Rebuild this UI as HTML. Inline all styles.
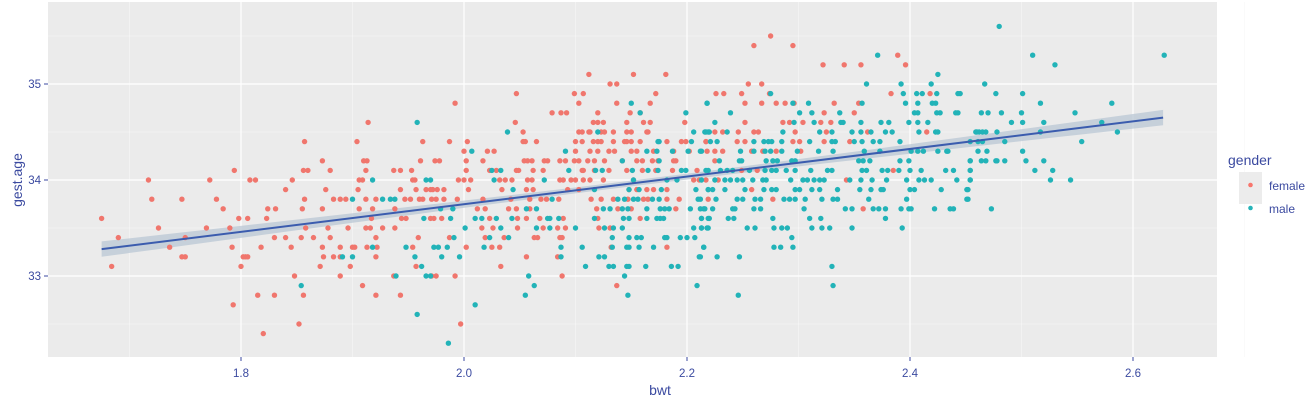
<!DOCTYPE html>
<html><head><meta charset="utf-8"><style>
html,body{margin:0;padding:0;background:#fff;}
svg{display:block;font-family:"Liberation Sans",sans-serif;}
</style></head><body>
<svg id="chart" width="1314" height="401" viewBox="0 0 1314 401">
<rect x="48" y="2" width="1169" height="355" fill="#ebebeb"/>
<g id="grid"></g>
<g id="band"></g>
<g id="pts"></g>
<g id="fit"></g>
<g id="axes"></g>
<text x="660" y="395" text-anchor="middle" font-size="14" fill="#3b4aa0">bwt</text>
<text transform="translate(22,180) rotate(-90)" text-anchor="middle" font-size="14" fill="#3b4aa0">gest.age</text>
<g>
<text x="1228" y="165" font-size="14" fill="#3b4aa0">gender</text>
<rect x="1239" y="172" width="23" height="32" fill="#ececec"/>
<circle cx="1250.5" cy="185" r="2.3" fill="#F8766D"/>
<circle cx="1250.5" cy="208" r="2.3" fill="#26b4b9"/>
<text x="1269" y="190" font-size="12" fill="#3b4aa0">female</text>
<text x="1269" y="213" font-size="12" fill="#3b4aa0">male</text>
</g>
</svg>
<script>
const xTicks=[1.8,2.0,2.2,2.4,2.6];
const xTickLabels=["1.8","2.0","2.2","2.4","2.6"];
const yTicks=[33,34,35];
const yTickLabels=["33","34","35"];
const fitLine=[[1.675,33.28],[2.627,34.65]];
const femalePts=[[1.675,33.6],[1.684,33.1],[1.69,33.4],[1.717,34.0],[1.72,33.8],[1.726,33.5],[1.736,33.3],[1.747,33.8],[1.747,33.2],[1.75,33.2],[1.75,33.4],[1.769,33.5],[1.772,34.0],[1.778,33.8],[1.784,33.7],[1.79,33.5],[1.792,33.3],[1.793,32.7],[1.794,34.1],[1.798,33.6],[1.8,33.1],[1.802,33.2],[1.804,33.2],[1.806,33.2],[1.806,33.6],[1.808,34.0],[1.813,34.0],[1.815,32.8],[1.818,33.3],[1.82,32.4],[1.823,33.6],[1.824,33.7],[1.83,33.4],[1.83,32.8],[1.831,33.7],[1.84,33.9],[1.84,33.4],[1.845,33.3],[1.846,34.0],[1.848,33.0],[1.852,32.5],[1.854,33.4],[1.855,33.7],[1.856,34.1],[1.86,34.1],[1.856,32.8],[1.857,34.4],[1.857,33.8],[1.858,33.5],[1.865,33.4],[1.871,33.1],[1.873,34.2],[1.873,33.7],[1.873,33.3],[1.874,33.2],[1.876,33.9],[1.878,33.5],[1.88,33.4],[1.88,34.1],[1.883,33.8],[1.889,33.8],[1.894,33.8],[1.883,33.2],[1.889,33.2],[1.889,33.3],[1.889,33.0],[1.896,33.5],[1.898,33.1],[1.9,33.3],[1.902,33.3],[1.904,34.4],[1.905,33.9],[1.906,34.0],[1.909,34.0],[1.906,33.7],[1.909,32.9],[1.91,34.2],[1.913,34.2],[1.912,34.1],[1.914,34.6],[1.912,33.8],[1.912,33.5],[1.916,33.5],[1.913,33.3],[1.922,33.3],[1.917,33.6],[1.918,33.7],[1.921,33.8],[1.921,33.4],[1.921,33.2],[1.921,32.8],[1.927,33.5],[1.937,34.1],[1.943,34.1],[1.937,33.0],[1.938,33.7],[1.938,33.5],[1.943,33.9],[1.943,32.8],[1.944,33.6],[1.948,33.6],[1.947,33.8],[1.952,33.8],[1.953,34.1],[1.954,34.0],[1.956,34.0],[1.954,33.3],[1.957,33.9],[1.957,33.1],[1.959,33.4],[1.96,33.8],[1.963,33.8],[1.961,34.2],[1.963,34.4],[1.966,33.9],[1.97,33.6],[1.971,33.8],[1.971,33.0],[1.972,33.9],[1.974,34.2],
[1.992,34.8],[1.987,34.4],[2.003,34.4],[2.0,34.3],[1.978,34.2],[2.002,34.2],[2.017,34.2],[2.021,34.3],[2.027,34.3],[2.002,34.1],[2.023,34.1],[2.029,34.1],[2.047,34.1],[1.995,34.0],[2.0,34.0],[2.006,34.0],[2.032,34.0],[2.037,34.0],[2.043,34.0],[2.057,34.0],[2.061,34.0],[2.004,33.9],[2.034,33.9],[2.056,33.9],[2.062,33.9],[1.976,33.9],[1.982,33.9],[1.97,33.9],[1.975,33.8],[1.982,33.8],[1.994,33.8],[2.017,33.8],[2.042,33.8],[2.059,33.8],[2.069,33.8],[2.074,33.8],[2.012,33.7],[2.019,33.7],[2.04,33.7],[2.047,33.7],[2.059,33.7],[1.973,33.6],[1.98,33.6],[2.023,33.6],[2.048,33.6],[2.056,33.6],[2.068,33.6],[2.016,33.5],[2.026,33.5],[2.048,33.5],[2.071,33.5],[2.084,33.5],[2.091,33.5],[1.987,33.4],[2.019,33.4],[2.036,33.4],[2.063,33.4],[2.066,33.4],[2.086,33.4],[2.088,33.4],[2.002,33.3],[2.025,33.3],[2.032,33.3],[2.056,33.2],[2.084,33.2],[2.033,33.1],[1.975,33.0],[1.992,33.0],[2.088,33.0],[1.997,32.5],
[2.047,34.9],[2.046,34.6],[2.053,34.5],[2.053,34.4],[2.055,34.4],[2.065,34.4],[2.054,34.2],[2.057,34.2],[2.061,34.2],[2.072,34.2],[2.075,34.2],[2.049,34.1],[2.071,34.1],[2.062,34.1],[2.079,34.7],[2.087,34.7],[2.092,34.7],[2.099,34.9],[2.103,34.8],[2.107,34.9],[2.112,35.1],[2.131,35.0],[2.137,35.0],[2.152,35.1],[2.181,35.1],[2.172,34.9],[2.167,34.8],[2.137,34.8],[2.12,34.7],[2.149,34.7],[2.158,34.7],[2.116,34.6],[2.12,34.6],[2.125,34.6],[2.146,34.6],[2.161,34.6],[2.167,34.6],[2.198,34.6],[2.103,34.5],[2.106,34.5],[2.112,34.5],[2.113,34.5],[2.123,34.5],[2.126,34.5],[2.134,34.5],[2.146,34.5],[2.15,34.5],[2.164,34.5],[2.165,34.5],[2.1,34.4],[2.106,34.4],[2.116,34.4],[2.12,34.4],[2.123,34.4],[2.134,34.4],[2.144,34.4],[2.146,34.4],[2.15,34.4],[2.158,34.4],[2.182,34.4],[2.195,34.4],[2.199,34.4],[2.217,34.4],[2.1,34.3],[2.113,34.3],[2.12,34.3],[2.13,34.3],[2.135,34.3],[2.15,34.3],[2.155,34.3],[2.17,34.3],[2.188,34.3],[2.202,34.3],[2.086,34.2],[2.091,34.2],[2.099,34.2],[2.103,34.2],[2.111,34.2],[2.117,34.2],[2.126,34.2],[2.142,34.2],[2.155,34.2],[2.16,34.2],[2.169,34.2],[2.174,34.2],[2.188,34.2],[2.19,34.2],[2.106,34.1],[2.107,34.1],[2.117,34.1],[2.13,34.1],[2.146,34.1],[2.16,34.1],[2.172,34.1],[2.187,34.1],[2.209,34.1],[2.086,34.0],[2.089,34.0],[2.096,34.0],[2.1,34.0],[2.107,34.0],[2.113,34.0],[2.125,34.0],[2.152,34.0],[2.206,34.0],[2.211,34.0],[2.093,33.9],[2.103,33.9],[2.148,33.9],[2.155,33.9],[2.164,33.9],[2.17,33.9],[2.182,33.9],[2.085,33.8],[2.114,33.8],[2.123,33.8],[2.134,33.8],[2.147,33.8],[2.161,33.8],[2.165,33.8],[2.182,33.8],[2.193,33.8],[2.119,33.7],[2.138,33.7],[2.15,33.7],[2.19,33.7],[2.089,33.6],[2.12,33.6],[2.158,33.6],[2.121,33.5],[2.131,33.5],[2.132,33.3],[2.182,33.3],[2.137,32.9],
[2.275,35.5],[2.26,35.4],[2.295,35.4],[2.389,35.3],[2.322,35.2],[2.341,35.2],[2.356,35.2],[2.396,35.2],[2.255,35.0],[2.267,35.0],[2.226,34.9],[2.233,34.9],[2.249,34.9],[2.274,34.9],[2.383,34.9],[2.418,34.9],[2.252,34.8],[2.267,34.8],[2.28,34.8],[2.288,34.8],[2.296,34.8],[2.332,34.8],[2.354,34.8],[2.323,34.7],[2.35,34.7],[2.252,34.6],[2.286,34.6],[2.292,34.6],[2.304,34.6],[2.32,34.6],[2.329,34.6],[2.225,34.5],[2.232,34.5],[2.246,34.5],[2.26,34.5],[2.264,34.5],[2.297,34.5],[2.325,34.5],[2.362,34.5],[2.415,34.5],[2.217,34.4],[2.245,34.4],[2.252,34.4],[2.295,34.4],[2.301,34.4],[2.323,34.4],[2.346,34.4],[2.218,34.3],[2.225,34.3],[2.232,34.3],[2.258,34.3],[2.268,34.3],[2.28,34.3],[2.302,34.3],[2.225,34.2],[2.249,34.1],[2.263,34.1],[2.385,34.1],[2.217,34.0],[2.228,34.0],[2.343,34.0],[2.258,33.9],[2.219,33.8],[2.277,33.8],[2.358,33.7]];
const malePts=[[1.918,34.0],[1.9,33.8],[1.927,33.8],[1.934,33.8],[1.938,33.8],[1.958,34.6],[1.966,34.0],[1.964,33.6],[1.948,33.3],[1.918,33.3],[1.891,33.2],[1.9,33.2],[1.956,33.2],[1.962,33.1],[1.966,33.0],[1.939,33.0],[1.854,32.9],[1.958,32.6],[1.973,33.3],[1.986,32.3],
[2.039,34.5],[2.007,34.3],[2.025,34.1],[2.033,34.1],[2.027,34.0],[2.072,34.0],[2.094,34.1],[2.091,34.3],[1.97,34.0],[2.044,33.9],[1.99,33.7],[1.979,33.7],[2.01,33.6],[2.016,33.6],[2.029,33.6],[2.043,33.6],[2.065,33.7],[2.056,33.7],[1.988,33.6],[2.001,33.5],[2.033,33.5],[2.065,33.5],[2.077,33.5],[2.1,33.5],[1.991,33.4],[2.023,33.4],[2.04,33.4],[1.977,33.3],[1.985,33.3],[2.018,33.3],[2.087,33.3],[2.106,33.3],[1.98,33.2],[1.996,33.2],[2.087,33.2],[2.109,33.1],[1.97,33.0],[2.058,33.0],[2.063,32.9],[2.055,32.8],[2.01,32.7],[2.079,33.8],[2.085,33.6],[2.077,33.6],[2.075,33.6],
[2.12,34.5],[2.142,34.2],[2.118,34.1],[2.124,34.1],[2.15,34.8],[2.158,34.7],[2.175,34.4],[2.174,34.4],[2.164,34.3],[2.173,34.3],[2.187,34.3],[2.201,34.3],[2.206,34.5],[2.216,34.5],[2.219,34.5],[2.199,34.7],[2.218,34.8],[2.204,34.4],[2.213,34.3],[2.151,34.1],[2.152,34.0],[2.175,34.2],[2.165,34.1],[2.174,34.1],[2.195,34.1],[2.199,34.1],[2.217,34.1],[2.191,34.0],[2.182,34.0],[2.117,33.9],[2.148,33.9],[2.157,33.9],[2.177,33.9],[2.208,33.9],[2.219,33.9],[2.138,33.8],[2.144,33.8],[2.152,33.8],[2.156,33.8],[2.169,33.8],[2.175,33.8],[2.21,33.8],[2.125,33.7],[2.131,33.7],[2.142,33.7],[2.147,33.7],[2.164,33.7],[2.176,33.7],[2.18,33.7],[2.184,33.7],[2.203,33.7],[2.212,33.7],[2.216,33.7],[2.117,33.6],[2.143,33.6],[2.148,33.6],[2.164,33.6],[2.173,33.6],[2.176,33.6],[2.179,33.6],[2.213,33.6],[2.219,33.6],[2.126,33.5],[2.134,33.5],[2.142,33.5],[2.206,33.5],[2.213,33.5],[2.219,33.5],[2.133,33.4],[2.148,33.4],[2.155,33.4],[2.159,33.4],[2.18,33.4],[2.182,33.4],[2.194,33.4],[2.2,33.4],[2.207,33.4],[2.133,33.3],[2.146,33.3],[2.148,33.3],[2.157,33.3],[2.17,33.3],[2.215,33.3],[2.121,33.2],[2.126,33.2],[2.211,33.2],[2.13,33.1],[2.134,33.1],[2.146,33.1],[2.148,33.1],[2.163,33.1],[2.186,33.1],[2.192,33.1],[2.144,33.0],[2.209,32.9],[2.147,32.8],
[2.371,35.3],[2.425,35.1],[2.361,35.0],[2.392,35.0],[2.419,35.0],[2.275,34.9],[2.394,34.9],[2.406,34.9],[2.411,34.9],[2.424,34.9],[2.443,34.9],[2.218,34.8],[2.295,34.8],[2.309,34.8],[2.357,34.8],[2.396,34.8],[2.407,34.8],[2.42,34.8],[2.423,34.8],[2.239,34.7],[2.301,34.7],[2.312,34.7],[2.337,34.7],[2.404,34.7],[2.407,34.7],[2.424,34.7],[2.427,34.7],[2.441,34.7],[2.443,34.7],[2.225,34.6],[2.296,34.6],[2.314,34.6],[2.338,34.6],[2.34,34.6],[2.356,34.6],[2.374,34.6],[2.381,34.6],[2.399,34.6],[2.407,34.6],[2.416,34.6],[2.217,34.5],[2.22,34.5],[2.236,34.5],[2.286,34.5],[2.319,34.5],[2.33,34.5],[2.348,34.5],[2.356,34.5],[2.365,34.5],[2.378,34.5],[2.384,34.5],[2.408,34.5],[2.423,34.5],[2.425,34.5],[2.46,34.5],[2.221,34.4],[2.227,34.4],[2.26,34.4],[2.269,34.4],[2.273,34.4],[2.276,34.4],[2.285,34.4],[2.31,34.4],[2.33,34.4],[2.333,34.4],[2.35,34.4],[2.357,34.4],[2.367,34.4],[2.373,34.4],[2.391,34.4],[2.212,34.3],[2.248,34.3],[2.26,34.3],[2.27,34.3],[2.275,34.3],[2.285,34.3],[2.299,34.3],[2.318,34.3],[2.331,34.3],[2.359,34.3],[2.373,34.3],[2.401,34.3],[2.407,34.3],[2.412,34.3],[2.425,34.3],[2.433,34.3],[2.434,34.3],[2.461,34.3],[2.229,34.2],[2.247,34.2],[2.249,34.2],[2.271,34.2],[2.277,34.2],[2.281,34.2],[2.294,34.2],[2.297,34.2],[2.354,34.2],[2.358,34.2],[2.364,34.2],[2.391,34.2],[2.399,34.2],[2.454,34.2],[2.219,34.1],[2.23,34.1],[2.236,34.1],[2.241,34.1],[2.256,34.1],[2.27,34.1],[2.276,34.1],[2.28,34.1],[2.289,34.1],[2.297,34.1],[2.311,34.1],[2.326,34.1],[2.33,34.1],[2.357,34.1],[2.361,34.1],[2.375,34.1],[2.38,34.1],[2.39,34.1],[2.4,34.1],[2.41,34.1],[2.432,34.1],[2.439,34.1],[2.454,34.1],[2.213,34.0],[2.225,34.0],[2.234,34.0],[2.239,34.0],[2.245,34.0],[2.25,34.0],[2.259,34.0],[2.268,34.0],[2.271,34.0],[2.293,34.0],[2.304,34.0],[2.308,34.0],[2.314,34.0],[2.319,34.0],[2.323,34.0],[2.346,34.0],[2.356,34.0],[2.366,34.0],[2.379,34.0],[2.397,34.0],[2.408,34.0],[2.413,34.0],[2.419,34.0],[2.442,34.0],[2.454,34.0],[2.219,33.9],[2.223,33.9],[2.234,33.9],[2.252,33.9],[2.269,33.9],[2.276,33.9],[2.28,33.9],[2.297,33.9],[2.301,33.9],[2.312,33.9],[2.319,33.9],[2.335,33.9],[2.355,33.9],[2.365,33.9],[2.374,33.9],[2.376,33.9],[2.4,33.9],[2.404,33.9],[2.428,33.9],[2.452,33.9],[2.212,33.8],[2.226,33.8],[2.245,33.8],[2.25,33.8],[2.261,33.8],[2.266,33.8],[2.287,33.8],[2.292,33.8],[2.297,33.8],[2.306,33.8],[2.321,33.8],[2.331,33.8],[2.335,33.8],[2.363,33.8],[2.397,33.8],[2.452,33.8],[2.215,33.7],[2.223,33.7],[2.241,33.7],[2.243,33.7],[2.26,33.7],[2.266,33.7],[2.305,33.7],[2.342,33.7],[2.348,33.7],[2.367,33.7],[2.372,33.7],[2.378,33.7],[2.392,33.7],[2.399,33.7],[2.401,33.7],[2.422,33.7],[2.436,33.7],[2.439,33.7],[2.213,33.6],[2.22,33.6],[2.237,33.6],[2.242,33.6],[2.277,33.6],[2.31,33.6],[2.32,33.6],[2.378,33.6],[2.213,33.5],[2.218,33.5],[2.254,33.5],[2.261,33.5],[2.278,33.5],[2.285,33.5],[2.29,33.5],[2.312,33.5],[2.321,33.5],[2.328,33.5],[2.348,33.5],[2.393,33.5],[2.294,33.4],[2.215,33.3],[2.278,33.3],[2.284,33.3],[2.295,33.3],[2.212,33.2],[2.227,33.2],[2.247,33.2],[2.33,33.1],[2.331,32.9],[2.246,32.8],
[2.48,35.6],[2.51,35.3],[2.628,35.3],[2.53,35.2],[2.467,35.0],[2.445,34.9],[2.477,34.9],[2.501,34.9],[2.517,34.8],[2.581,34.8],[2.464,34.7],[2.47,34.7],[2.482,34.7],[2.5,34.7],[2.548,34.7],[2.491,34.6],[2.501,34.6],[2.52,34.6],[2.572,34.6],[2.459,34.5],[2.462,34.5],[2.465,34.5],[2.468,34.5],[2.478,34.5],[2.517,34.5],[2.586,34.5],[2.454,34.4],[2.461,34.4],[2.465,34.4],[2.485,34.4],[2.554,34.4],[2.469,34.3],[2.501,34.3],[2.454,34.2],[2.464,34.2],[2.468,34.2],[2.477,34.2],[2.478,34.2],[2.485,34.2],[2.504,34.2],[2.52,34.2],[2.454,34.1],[2.512,34.1],[2.528,34.1],[2.454,34.0],[2.526,34.0],[2.544,34.0],[2.451,33.9],[2.451,33.8],[2.473,33.7]];

const NS="http://www.w3.org/2000/svg";
const X0=48,X1=1217,Y0=2,Y1=357;
function xs(v){return 241+(v-1.8)*1115;}
function ys(v){return 180-(v-34)*96;}
function mk(tag,attrs,parent){const e=document.createElementNS(NS,tag);for(const k in attrs)e.setAttribute(k,attrs[k]);parent.appendChild(e);return e;}
const grid=document.getElementById('grid');
for(let v=1.7;v<=2.71;v+=0.2){const x=xs(v);const l=mk('line',{x1:x,x2:x,y1:Y0,y2:Y1,stroke:'#f7f7f7','stroke-width':0.6},grid);

}
for(let v=32.5;v<=35.51;v+=1){const y=ys(v);const l=mk('line',{x1:X0,x2:X1,y1:y,y2:y,stroke:'#f7f7f7','stroke-width':0.6},grid);

}
const axes=document.getElementById('axes');
xTicks.forEach((v,i)=>{const x=xs(v);
const l=mk('line',{x1:x,x2:x,y1:Y0,y2:Y1,stroke:'#fff','stroke-width':1.2},grid);


const t=mk('line',{x1:x,x2:x,y1:Y1,y2:Y1+4,stroke:'#3b4aa0','stroke-width':1},axes);


const tx=mk('text',{x:x,y:377,'text-anchor':'middle','font-size':11.5,fill:'#3b4aa0'},axes);tx.textContent=xTickLabels[i];

});
yTicks.forEach((v,i)=>{const y=ys(v);
const l=mk('line',{x1:X0,x2:X1,y1:y,y2:y,stroke:'#fff','stroke-width':1.2},grid);


const t=mk('line',{x1:X0-4,x2:X0,y1:y,y2:y,stroke:'#3b4aa0','stroke-width':1},axes);


const tx=mk('text',{x:X0-7,y:y+4,'text-anchor':'end','font-size':11.5,fill:'#3b4aa0'},axes);tx.textContent=yTickLabels[i];

});
// confidence band
const [a,b]=fitLine;const slope=(b[1]-a[1])/(b[0]-a[0]);const mid=2.15;
function fitY(x){return a[1]+slope*(x-a[0]);}
function se(x){return Math.sqrt(0.0009+0.0244*(x-mid)*(x-mid));}
let up=[],dn=[];
for(let i=0;i<=40;i++){const x=a[0]+(b[0]-a[0])*i/40;up.push(xs(x)+','+ys(fitY(x)+se(x)));dn.unshift(xs(x)+','+ys(fitY(x)-se(x)));}
const band=mk('polygon',{points:up.concat(dn).join(' '),fill:'#b9c7d4','fill-opacity':0.75},document.getElementById('band'));


const ptsG=document.getElementById('pts');
femalePts.forEach(p=>{const c=mk('circle',{cx:xs(p[0]),cy:ys(p[1]),r:2.7,fill:'#F0766D'},ptsG);

});
malePts.forEach(p=>{const c=mk('circle',{cx:xs(p[0]),cy:ys(p[1]),r:2.7,fill:'#22b3b8'},ptsG);

});
const fl=mk('line',{x1:xs(a[0]),y1:ys(a[1]),x2:xs(b[0]),y2:ys(b[1]),stroke:'#3b5cae','stroke-width':2},document.getElementById('fit'));


</script>
</body></html>
